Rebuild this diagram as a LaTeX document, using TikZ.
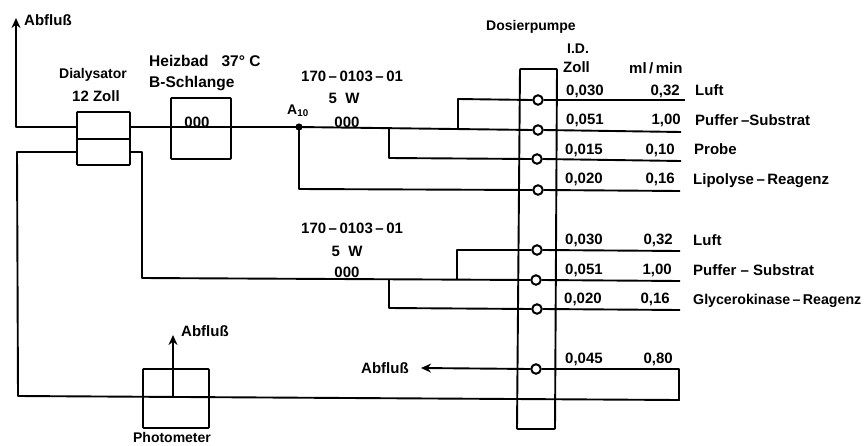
\documentclass[tikz,border=0pt]{standalone}
\usepackage{fontspec}
\setmainfont{Liberation Sans}
\usetikzlibrary{arrows.meta}
\begin{document}
\begin{tikzpicture}[x=1pt,y=-1pt,
  pipe/.style={line width=1.9pt,line join=round},
  boxed/.style={draw,line width=1.8pt,rounded corners=0.8pt,inner sep=0pt,anchor=north west,fill=none},
  port/.style={circle,draw,fill=white,line width=2pt,minimum size=9.5pt,inner sep=0pt},
  outflow/.style={pipe,-{Stealth[length=10pt,width=9pt]}},
  lbl/.style={inner sep=0pt,font=\fontsize{15}{17}\selectfont\bfseries,anchor=base west},
  lblc/.style={lbl,anchor=base},
  lblr/.style={lbl,anchor=base east},
  slim/.style={font=\fontsize{14}{16}\selectfont\bfseries},
  wide/.style={font=\fontsize{15.5}{17}\selectfont\bfseries}]
\useasboundingbox (0,0) rectangle (865,445);
% free ends and corners
\coordinate (outA) at (16,18);
\coordinate (cA) at (16,127);
\coordinate (a10) at (299,127);
\coordinate (j1) at (458,129);
\coordinate (j2) at (389,128);
\coordinate (j3) at (142,152);
\coordinate (j4) at (142,278);
\coordinate (j5) at (457,279);
\coordinate (j6) at (389,279);
\coordinate (cW1) at (679,369);
\coordinate (cW2) at (679,400);
\coordinate (cW3) at (18,396);
\coordinate (cW4) at (17,152);
\coordinate (photoJ) at (173,397);
\coordinate (photoTip) at (173,335);
\coordinate (wasteTip) at (421,368);
% right ends
\coordinate (e1) at (685,100);
\coordinate (e2) at (681,132);
\coordinate (e3) at (681,161);
\coordinate (e4) at (680,191);
\coordinate (e5) at (680,251);
\coordinate (e6) at (680,281);
\coordinate (e7) at (680,310);
% pump body
\draw[pipe,rounded corners=0.8pt] (520,69) -- (557,69) -- (555,429) -- (517,429) -- cycle;
% boxes
\node[boxed,minimum width=53pt,minimum height=27pt] (dialA) at (76,111) {};
\node[boxed,minimum width=53pt,minimum height=26pt] (dialB) at (76,138) {};
\node[boxed,minimum width=60pt,minimum height=61pt] (bath) at (170,97) {};
\node[boxed,minimum width=66pt,minimum height=59pt] (photo) at (142,368) {};
% ports
\node[port] (p1) at (538,100) {};
\node[port] (p2) at (538,130) {};
\node[port] (p3) at (537,159) {};
\node[port] (p4) at (538,190) {};
\node[port] (p5) at (537,250) {};
\node[port] (p6) at (536,280) {};
\node[port] (p7) at (537,309) {};
\node[port] (p8) at (536,369) {};
% connectors
\draw[outflow] (dialA.west |- cA) -- (cA) -- (outA);
\draw[pipe] (dialA.east |- a10) -- (a10);
\draw[pipe] (a10) -- (p2.west);
\draw[pipe] (j1) -- (458,99) -- (p1.west);
\draw[pipe] (j2) -- (389,158) -- (p3.west);
\draw[pipe] (a10) -- (299,189) -- (p4.west);
\draw[pipe] (p1.east) -- (e1);
\draw[pipe] (p2.east) -- (e2);
\draw[pipe] (p3.east) -- (e3);
\draw[pipe] (p4.east) -- (e4);
\draw[pipe] (dialB.east |- j3) -- (j3) -- (j4) -- (p6.west);
\draw[pipe] (j5) -- (457,250) -- (p5.west);
\draw[pipe] (j6) -- (389,308) -- (p7.west);
\draw[pipe] (p5.east) -- (e5);
\draw[pipe] (p6.east) -- (e6);
\draw[pipe] (p7.east) -- (e7);
\draw[outflow] (p8.west) -- (wasteTip);
\draw[pipe] (p8.east) -- (cW1) -- (cW2) -- (cW3) -- (cW4) -- (dialB.west |- cW4);
\draw[outflow] (photoJ) -- (photoTip);
\fill (a10) circle (3.6pt);
% labels
\node[lbl] (t1) at (24,25) {Abfluß};
\node[lblc,slim] (t2) at (93,78) {Dialysator};
\node[lblc] (t3) at (96,101) {12 Zoll};
\node[lbl,wide] (t4) at (149,66) {Heizbad\ \ \ 37° C};
\node[lbl,wide] (t5) at (149,87) {B-Schlange};
\node[lblc] (t6) at (197,127) {000};
\node[lbl] (t7) at (301,81) {170\,--\,0103\,--\,01};
\node[lblc] (t8) at (344,103) {5\ \ W};
\node[lblc] (t9) at (347,127) {000};
\node[lbl,slim] (t10) at (287,114) {A$_{\mathbf{10}}$};
\node[lbl,slim] (t11) at (486,30) {Dosierpumpe};
\node[lbl,slim] (t12) at (567,53) {I.D.};
\node[lbl] (t13) at (563,72) {Zoll};
\node[lbl] (t14) at (629,73) {ml\,/\,min};
\node[lbl] (n1) at (566,95) {0,030};
\node[lbl] (n2) at (566,124) {0,051};
\node[lbl] (n3) at (565,154) {0,015};
\node[lbl] (n4) at (565,183) {0,020};
\node[lblr] (r1) at (680,95) {0,32};
\node[lblr] (r2) at (681,124) {1,00};
\node[lblr] (r3) at (675,154) {0,10};
\node[lblr] (r4) at (675,183) {0,16};
\node[lbl] (s1) at (695,95) {Luft};
\node[lbl] (s2) at (695,125) {Puffer\,--Substrat};
\node[lbl] (s3) at (694,154) {Probe};
\node[lbl] (s4) at (693,184) {Lipolyse\,--\,Reagenz};
\node[lbl] (t15) at (301,233) {170\,--\,0103\,--\,01};
\node[lblc] (t16) at (347,256) {5\ \ W};
\node[lblc] (t17) at (347,277) {000};
\node[lbl] (n5) at (565,244) {0,030};
\node[lbl] (n6) at (565,274) {0,051};
\node[lbl] (n7) at (564,303) {0,020};
\node[lbl] (n8) at (565,363) {0,045};
\node[lblr] (r5) at (673,244) {0,32};
\node[lblr] (r6) at (672,274) {1,00};
\node[lblr] (r7) at (670,303) {0,16};
\node[lblr] (r8) at (673,363) {0,80};
\node[lbl] (s5) at (693,245) {Luft};
\node[lbl] (s6) at (693,275) {Puffer -- Substrat};
\node[lbl,font=\fontsize{14.2}{16}\selectfont\bfseries] (s7) at (693,304) {Glycerokinase\,--\,Reagenz};
\node[lblc,slim] (t20) at (172,442) {Photometer};
\node[lbl] (t18) at (181,336) {Abfluß};
\node[lbl] (t19) at (361,373) {Abfluß};
\end{tikzpicture}
\end{document}
